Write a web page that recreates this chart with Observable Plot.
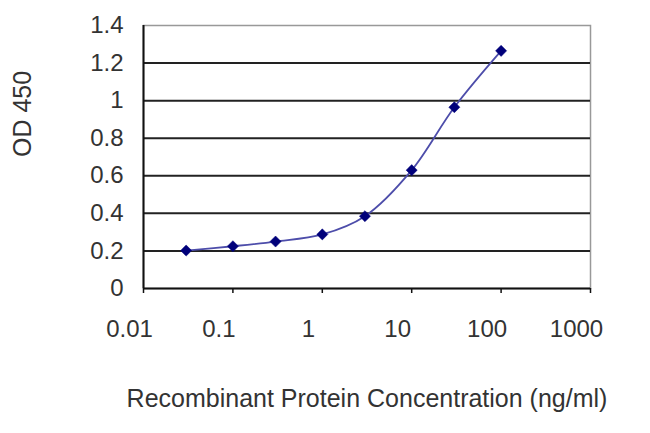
<!DOCTYPE html>
<html>
<head>
<meta charset="utf-8">
<script src="https://cdn.jsdelivr.net/npm/d3@7"></script>
<script src="https://cdn.jsdelivr.net/npm/@observablehq/plot@0.6"></script>
<style>
  html, body { margin: 0; padding: 0; background: #fff; }
  #chart svg { display: block; }
</style>
</head>
<body>
<div id="chart"></div>
<script>
const concentrations = [0.03, 0.1, 0.3, 1, 3, 10, 30, 100];
const od450 = [0.202, 0.225, 0.25, 0.288, 0.385, 0.63, 0.965, 1.265];
const xTicks = [0.01, 0.1, 1, 10, 100, 1000];
const xTickLabels = ["0.01", "0.1", "1", "10", "100", "1000"];
const yTicks = [0, 0.2, 0.4, 0.6, 0.8, 1, 1.2, 1.4];
const yTickLabels = ["0", "0.2", "0.4", "0.6", "0.8", "1", "1.2", "1.4"];
const xTitle = "Recombinant Protein Concentration (ng/ml)";
const yTitle = "OD 450";

const data = concentrations.map((c, i) => ({x: c, y: od450[i]}));
const gridValues = yTicks.filter(v => v > 0 && v < 1.4);

const chart = Plot.plot({
  width: 650,
  height: 433,
  marginLeft: 143,
  marginRight: 60,
  marginTop: 25,
  marginBottom: 145,
  style: {fontFamily: "Liberation Sans, Arial, sans-serif", fontSize: "24px", color: "#333", background: "#fff"},
  x: {type: "log", domain: [0.01, 1000], ticks: xTicks, label: null},
  y: {domain: [0, 1.4], ticks: yTicks, label: null},
  marks: [
    Plot.frame({stroke: "#999", strokeWidth: 1.5}),
    Plot.ruleY(gridValues, {stroke: "#222", strokeWidth: 2}),
    Plot.ruleY([0], {stroke: "#111", strokeWidth: 2}),
    Plot.ruleX([0.01], {stroke: "#111", strokeWidth: 2}),
    Plot.axisX({ticks: xTicks, tickSize: 5, stroke: "#111", strokeWidth: 1.5, text: null, label: null}),
    Plot.axisX({ticks: xTicks, tickSize: 0, tickPadding: 31,
      tickFormat: (d) => xTickLabels[xTicks.indexOf(d)], dx: -14, fill: "#333", fontSize: 24, label: null}),
    Plot.axisY({ticks: yTicks, tickSize: 0, tickPadding: 20,
      tickFormat: (d) => yTickLabels[yTicks.findIndex(v => Math.abs(v - d) < 1e-9)], fill: "#333", fontSize: 24, label: null}),
    Plot.line(data, {x: "x", y: "y", curve: "catmull-rom", stroke: "#4d4daa", strokeWidth: 1.8}),
    Plot.dot(data, {x: "x", y: "y", symbol: "diamond2", r: 5, fill: "#00007a", stroke: "#00007a", strokeWidth: 0.5}),
    Plot.text([xTitle], {frameAnchor: "bottom", lineAnchor: "middle", dy: 110, fill: "#333", fontSize: 25}),
    Plot.text([yTitle], {frameAnchor: "left", lineAnchor: "middle", rotate: -90, dx: -121, fill: "#333", fontSize: 25})
  ]
});
document.getElementById("chart").appendChild(chart);
</script>
</body>
</html>
